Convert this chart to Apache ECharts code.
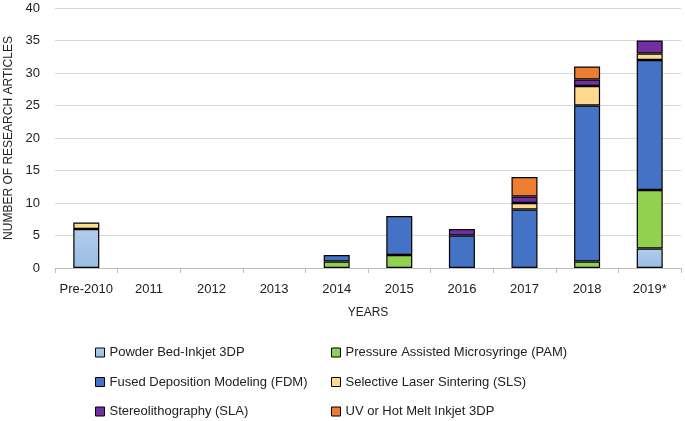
<!DOCTYPE html>
<html>
<head>
<meta charset="utf-8">
<script src="https://cdn.jsdelivr.net/npm/echarts@6/dist/echarts.min.js"></script>
<style>
  html, body { margin: 0; padding: 0; background: #fff; }
  #chart { width: 685px; height: 421px; }
</style>
</head>
<body>
<div id="chart"></div>
<script>
  // categories and stacked values
  const years = ['Pre-2010', '2011', '2012', '2013', '2014', '2015', '2016', '2017', '2018', '2019*'];
  const powderBed = [6, 0, 0, 0, 0, 0, 0, 0, 0, 3];
  const pam       = [0, 0, 0, 0, 1, 2, 0, 0, 1, 9];
  const fdm       = [0, 0, 0, 0, 1, 6, 5, 9, 24, 20];
  const sls       = [1, 0, 0, 0, 0, 0, 0, 1, 3, 1];
  const sla       = [0, 0, 0, 0, 0, 0, 1, 1, 1, 2];
  const uvInkjet  = [0, 0, 0, 0, 0, 0, 0, 3, 2, 0];

  const names = [
    'Powder Bed-Inkjet 3DP',
    'Pressure Assisted Microsyringe (PAM)',
    'Fused Deposition Modeling (FDM)',
    'Selective Laser Sintering (SLS)',
    'Stereolithography (SLA)',
    'UV or Hot Melt Inkjet 3DP'
  ];
  const values = [powderBed, pam, fdm, sls, sla, uvInkjet];
  const colors = [
    new echarts.graphic.LinearGradient(0, 0, 0, 1, [
      { offset: 0, color: '#b3cdeb' },
      { offset: 1, color: '#98bde4' }
    ]),
    '#92d050', '#4472c4', '#ffd98e', '#7030a0', '#ed7d31'
  ];

  const font = 'Liberation Sans';
  const chart = echarts.init(document.getElementById('chart'));

  const series = names.map((n, i) => ({
    name: n,
    type: 'bar',
    stack: 'total',
    barWidth: 26,
    data: values[i].map(v => v === 0 ? '-' : v),
    itemStyle: { color: colors[i], borderColor: '#000', borderWidth: 1.2 }
  }));

  const legendBase = {
    orient: 'vertical',
    top: 346,
    height: 75,
    padding: 0,
    itemWidth: 9,
    itemHeight: 9,
    itemGap: 16.5,
    icon: 'rect',
    textStyle: { fontFamily: font, fontSize: 13, color: '#222' },
    itemStyle: { borderColor: '#000', borderWidth: 1 }
  };

  chart.setOption({
    animation: false,
    color: ['#9dc3e6', '#92d050', '#4472c4', '#ffd98e', '#7030a0', '#ed7d31'],
    grid: { left: 55, right: 4, top: 8, bottom: 153, outerBoundsMode: 'none' },
    legend: [
      Object.assign({}, legendBase, { left: 95, data: [names[0], names[2], names[4]] }),
      Object.assign({}, legendBase, { left: 331, data: [names[1], names[3], names[5]] })
    ],
    xAxis: {
      type: 'category',
      data: years,
      name: 'YEARS',
      nameLocation: 'middle',
      nameGap: 39,
      nameMoveOverlap: false,
      nameTextStyle: { fontFamily: font, fontSize: 12, color: '#222' },
      axisLine: { lineStyle: { color: '#bfbfbf' } },
      axisTick: { show: true, alignWithLabel: false, length: 5, lineStyle: { color: '#bfbfbf' } },
      axisLabel: { interval: 0, fontFamily: font, fontSize: 13, color: '#222', margin: 15 }
    },
    yAxis: {
      type: 'value',
      min: 0,
      max: 40,
      interval: 5,
      name: 'NUMBER OF RESEARCH ARTICLES',
      nameLocation: 'middle',
      nameGap: 40,
      nameMoveOverlap: false,
      nameTextStyle: { fontFamily: font, fontSize: 12, color: '#222' },
      axisLine: { show: false },
      axisTick: { show: false },
      axisLabel: { fontFamily: font, fontSize: 13, color: '#222', margin: 15 },
      splitLine: { lineStyle: { color: '#d9d9d9', width: 1 } }
    },
    series: series
  });
</script>
</body>
</html>
